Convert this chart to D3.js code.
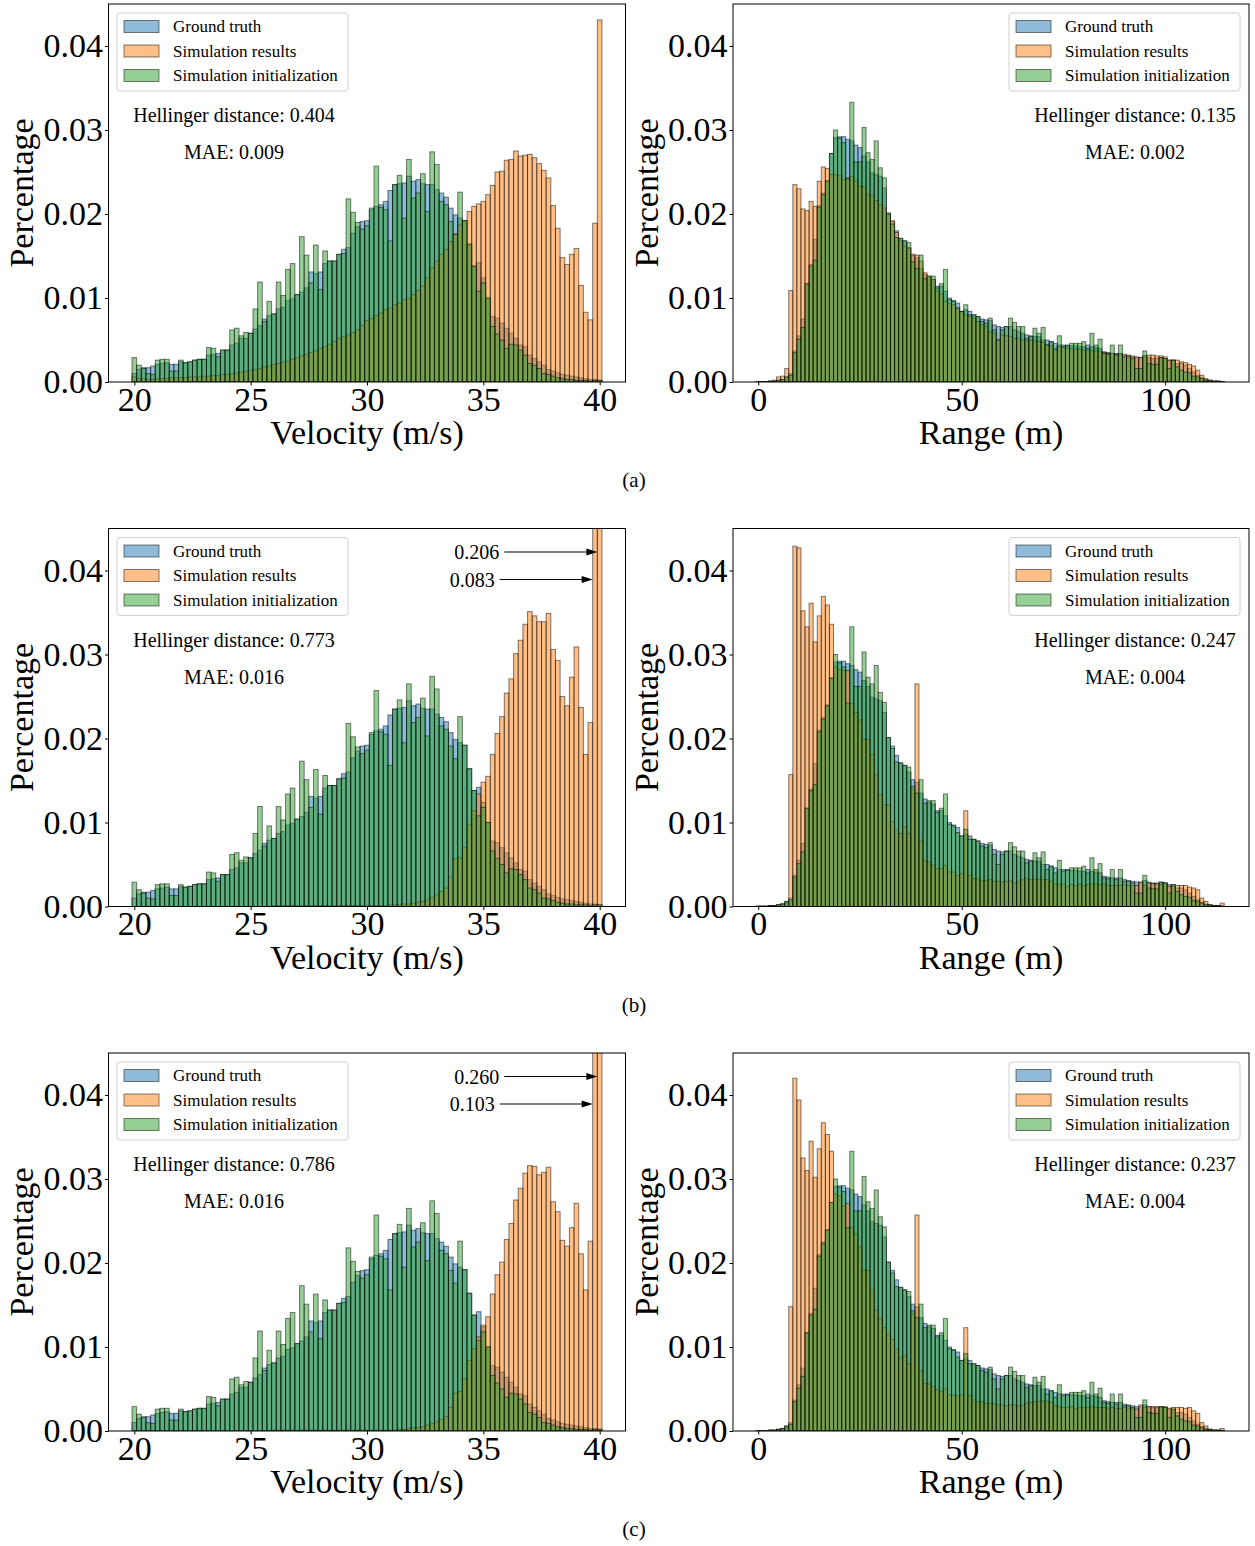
<!DOCTYPE html>
<html lang="en">
<head>
<meta charset="utf-8">
<title>Velocity and range histograms</title>
<script src="https://d3js.org/d3.v7.min.js"></script>
<style>
  body { margin: 0; background: #fff; }
  svg { display: block; font-family: "Liberation Serif", "Times New Roman", serif; }
</style>
</head>
<body>
<svg width="1255" height="1546"></svg>
<script>

// ---- data (histogram bin fractions) ----
// velocity bins: 101 bins of 0.2 m/s centred on 20.0 ... 40.0
var velGT = [
  .0010,.0015,.0017,.0017,.0019,.0021,.0022,.0023,.0021,.0021,
  .0024,.0023,.0024,.0026,.0027,.0027,.0032,.0033,.0034,.0038,
  .0038,.0044,.0046,.0052,.0052,.0058,.0063,.0067,.0075,.0079,
  .0081,.0087,.0089,.0097,.0099,.0104,.0107,.0112,.0131,.0129,
  .0131,.0141,.0144,.0144,.0152,.0158,.0160,.0177,.0185,.0191,
  .0192,.0205,.0209,.0211,.0215,.0228,.0235,.0236,.0237,.0245,
  .0239,.0241,.0236,.0235,.0235,.0229,.0225,.0220,.0207,.0199,
  .0195,.0192,.0164,.0138,.0142,.0124,.0100,.0078,.0076,.0070,
  .0064,.0058,.0052,.0044,.0042,.0032,.0028,.0024,.0020,.0015,
  .0013,.0011,.0009,.0008,.0007,.0006,.0005,.0004,.0003,.0003,
  .0002];
var velInit = [
  .0029,.0020,.0016,.0010,.0009,.0026,.0027,.0027,.0013,.0013,
  .0026,.0023,.0024,.0026,.0027,.0027,.0041,.0040,.0030,.0038,
  .0038,.0062,.0064,.0055,.0059,.0058,.0087,.0119,.0072,.0096,
  .0081,.0119,.0103,.0134,.0141,.0104,.0173,.0151,.0118,.0163,
  .0110,.0156,.0144,.0144,.0152,.0153,.0218,.0202,.0190,.0182,
  .0186,.0207,.0257,.0208,.0205,.0168,.0235,.0246,.0195,.0265,
  .0219,.0225,.0248,.0203,.0274,.0259,.0215,.0211,.0191,.0176,
  .0226,.0192,.0164,.0138,.0108,.0118,.0100,.0066,.0057,.0050,
  .0040,.0045,.0044,.0038,.0032,.0022,.0020,.0016,.0010,.0009,
  .0007,.0005,.0004,.0003,.0003,.0002,.0002,.0002,.0001,.0002,
  .0002];
var velSimA = [
  .0006,.0004,.0004,.0003,.0003,.0004,.0004,.0004,.0005,.0005,
  .0005,.0005,.0006,.0006,.0006,.0007,.0007,.0008,.0008,.0009,
  .0009,.0010,.0011,.0012,.0013,.0014,.0015,.0016,.0018,.0019,
  .0021,.0022,.0024,.0025,.0027,.0029,.0031,.0033,.0035,.0037,
  .0040,.0042,.0045,.0048,.0052,.0054,.0056,.0059,.0062,.0067,
  .0073,.0076,.0079,.0082,.0086,.0088,.0092,.0094,.0098,.0100,
  .0104,.0109,.0114,.0124,.0136,.0144,.0152,.0158,.0167,.0176,
  .0187,.0192,.0203,.0209,.0212,.0215,.0223,.0234,.0250,.0251,
  .0264,.0265,.0275,.0269,.0270,.0271,.0267,.0260,.0252,.0243,
  .0210,.0183,.0148,.0140,.0152,.0159,.0115,.0083,.0074,.0189,
  .0431];
var velSimB = [
  0,0,0,0,0,0,0,0,0,0,
  0,0,0,0,0,0,0,0,0,0,
  0,0,0,0,0,0,0,0,0,0,
  .0001,.0001,.0001,.0001,.0001,.0001,.0001,.0001,.0001,.0001,
  .0001,.0001,.0001,.0001,.0001,.0001,.0001,.0001,.0001,.0001,
  .0001,.0001,.0001,.0001,.0001,.0002,.0002,.0002,.0003,.0003,
  .0004,.0005,.0006,.0008,.0011,.0014,.0018,.0022,.0035,.0057,
  .0058,.0070,.0098,.0114,.0134,.0148,.0155,.0181,.0206,.0226,
  .0254,.0271,.0301,.0317,.0336,.0351,.0346,.0339,.0339,.0349,
  .0306,.0293,.0250,.0239,.0273,.0309,.0237,.0181,.0219,.083,
  .206];
var velSimC = [
  0,0,0,0,0,0,0,0,0,0,
  0,0,0,0,0,0,0,0,0,0,
  0,0,0,0,0,0,0,0,0,0,
  .0001,.0001,.0001,.0001,.0001,.0001,.0001,.0001,.0001,.0001,
  .0001,.0001,.0001,.0001,.0001,.0001,.0001,.0001,.0001,.0001,
  .0001,.0001,.0001,.0001,.0001,.0001,.0001,.0002,.0002,.0003,
  .0004,.0004,.0005,.0007,.0009,.0011,.0014,.0017,.0028,.0045,
  .0047,.0062,.0084,.0098,.0112,.0126,.0136,.0163,.0186,.0201,
  .0228,.0247,.0275,.0289,.0307,.0316,.0315,.0305,.0308,.0314,
  .0273,.0261,.0227,.0220,.0242,.0271,.0211,.0168,.0226,.103,
  .260];

// range bins: 115 bins of 1 m centred on 0 ... 114
var rngGT = [
  .00005,.00005,.00005,.0001,.0001,.0002,.0003,.0006,.0010,.0037,
  .0055,.0075,.0117,.0140,.0170,.0210,.0225,.0240,.0272,.0291,
  .0292,.0292,.0289,.0287,.0282,.0279,.0269,.0262,.0249,.0247,
  .0245,.0231,.0201,.0191,.0180,.0171,.0168,.0160,.0151,.0148,
  .0135,.0128,.0124,.0122,.0114,.0114,.0108,.0100,.0097,.0094,
  .0084,.0086,.0084,.0080,.0078,.0075,.0074,.0073,.0068,.0066,
  .0065,.0066,.0066,.0062,.0060,.0058,.0056,.0055,.0054,.0054,
  .0050,.0050,.0048,.0046,.0044,.0044,.0044,.0043,.0043,.0042,
  .0042,.0044,.0042,.0041,.0040,.0036,.0035,.0034,.0034,.0034,
  .0032,.0031,.0030,.0029,.0029,.0031,.0029,.0028,.0028,.0029,
  .0028,.0026,.0026,.0022,.0022,.0020,.0016,.0012,.0008,.0005,
  .0003,.0002,.0001,.0001,.00005];
var rngInit = [
  .00005,.00005,.00005,.0001,.0001,.0002,.0003,.0006,.0008,.0035,
  .0051,.0065,.0117,.0138,.0145,.0208,.0223,.0239,.0272,.0300,
  .0290,.0285,.0242,.0333,.0262,.0262,.0303,.0273,.0265,.0287,
  .0255,.0243,.0201,.0188,.0172,.0171,.0168,.0166,.0143,.0135,
  .0151,.0123,.0126,.0126,.0112,.0117,.0134,.0098,.0096,.0088,
  .0084,.0092,.0080,.0080,.0078,.0072,.0070,.0076,.0062,.0050,
  .0062,.0066,.0076,.0071,.0066,.0066,.0052,.0054,.0064,.0058,
  .0065,.0044,.0048,.0040,.0055,.0042,.0043,.0046,.0046,.0046,
  .0048,.0040,.0058,.0044,.0051,.0034,.0033,.0044,.0032,.0044,
  .0030,.0030,.0028,.0016,.0016,.0037,.0022,.0021,.0021,.0029,
  .0028,.0016,.0026,.0018,.0014,.0012,.0011,.0007,.0006,.0004,
  .0002,.0002,.0001,.0001,.00005];
var rngSimA = [
  0,0,.00005,.0001,.0002,.0006,.0007,.0016,.0109,.0235,
  .0230,.0206,.0204,.0215,.0209,.0239,.0256,.0254,.0247,.0247,
  .0246,.0241,.0243,.0245,.0239,.0233,.0233,.0224,.0222,.0216,
  .0211,.0207,.0199,.0192,.0178,.0168,.0162,.0159,.0152,.0151,
  .0144,.0130,.0126,.0122,.0108,.0105,.0096,.0093,.0092,.0088,
  .0084,.0080,.0078,.0076,.0072,.0068,.0066,.0060,.0058,.0050,
  .0056,.0055,.0054,.0052,.0052,.0050,.0049,.0050,.0049,.0048,
  .0047,.0044,.0043,.0038,.0042,.0041,.0040,.0040,.0039,.0039,
  .0038,.0038,.0037,.0037,.0036,.0035,.0034,.0034,.0033,.0033,
  .0033,.0032,.0031,.0030,.0029,.0031,.0032,.0032,.0031,.0031,
  .0030,.0026,.0026,.0026,.0024,.0023,.0021,.0019,.0014,.0008,
  .0004,.0002,.0001,.0001,.00005];
var rngSimB = [
  0,0,0,.0001,.0001,.0002,.0003,.0004,.0157,.0429,
  .0427,.0352,.0333,.0361,.0315,.0346,.0369,.0359,.0336,.0285,
  .0282,.0281,.0281,.0242,.0231,.0222,.0199,.0199,.0181,.0157,
  .0133,.0121,.0121,.0101,.0091,.0087,.0095,.0087,.0140,.0265,
  .0079,.0055,.0053,.0049,.0045,.0045,.0049,.0041,.0041,.0037,
  .0039,.0114,.0037,.0033,.0033,.0031,.0031,.0032,.0030,.0030,
  .0029,.0030,.0030,.0028,.0030,.0032,.0033,.0032,.0033,.0032,
  .0032,.0032,.0030,.0027,.0026,.0027,.0024,.0026,.0025,.0027,
  .0025,.0026,.0027,.0027,.0026,.0027,.0025,.0025,.0025,.0025,
  .0026,.0025,.0025,.0025,.0029,.0025,.0028,.0027,.0027,.0026,
  .0028,.0024,.0024,.0025,.0025,.0025,.0023,.0022,.0020,.0010,
  .0006,.0002,.0001,.0001,.0004];
var rngSimC = [
  0,0,0,.0001,.0001,.0002,.0003,.0004,.0148,.0420,
  .0394,.0325,.0310,.0345,.0302,.0336,.0367,.0353,.0333,.0282,
  .0280,.0268,.0271,.0242,.0235,.0219,.0192,.0191,.0168,.0144,
  .0134,.0123,.0115,.0109,.0097,.0087,.0090,.0080,.0140,.0257,
  .0072,.0057,.0056,.0053,.0049,.0047,.0050,.0043,.0043,.0042,
  .0043,.0123,.0042,.0037,.0035,.0035,.0033,.0033,.0032,.0031,
  .0031,.0030,.0031,.0031,.0030,.0031,.0033,.0034,.0035,.0035,
  .0036,.0035,.0034,.0030,.0029,.0028,.0028,.0029,.0027,.0028,
  .0028,.0028,.0029,.0028,.0028,.0028,.0027,.0028,.0027,.0027,
  .0028,.0027,.0026,.0026,.0031,.0028,.0029,.0029,.0029,.0028,
  .0029,.0027,.0028,.0028,.0028,.0027,.0028,.0024,.0021,.0010,
  .0006,.0002,.0001,.0001,.0003];

var seriesNames = ["Ground truth", "Simulation results", "Simulation initialization"];
var rowTags = ["(a)", "(b)", "(c)"];
var hellingerVel = ["0.404", "0.773", "0.786"];
var maeVel = ["0.009", "0.016", "0.016"];
var hellingerRng = ["0.135", "0.247", "0.237"];
var maeRng = ["0.002", "0.004", "0.004"];
var yTicks = [0, 0.01, 0.02, 0.03, 0.04];
var velTicks = [20, 25, 30, 35, 40];
var rngTicks = [0, 50, 100];

// ---- layout ----
var svg = d3.select("svg");
var colors = ["#1f77b4", "#ff7f0e", "#2ca02c"];
var plotH = 378;
var rowTop = [4, 528.5, 1053];
var fontFam = "'Liberation Serif', 'Times New Roman', serif";

var velCenters = d3.range(velGT.length).map(function(i) { return 20 + 0.2 * i; });
var rngCenters = d3.range(rngGT.length);

var velSims = [velSimA, velSimB, velSimC];
var rngSims = [rngSimA, rngSimB, rngSimC];

function drawPanel(cfg) {
  var g = svg.append("g");
  var x = d3.scaleLinear().domain(cfg.domain).range([cfg.x0, cfg.x1]);
  var y = d3.scaleLinear().domain([0, 0.045]).range([cfg.top + plotH, cfg.top]);

  svg.append("clipPath").attr("id", cfg.id)
    .append("rect")
    .attr("x", cfg.x0).attr("y", cfg.top)
    .attr("width", cfg.x1 - cfg.x0).attr("height", plotH);

  var bars = g.append("g").attr("clip-path", "url(#" + cfg.id + ")");
  [cfg.gt, cfg.sim, cfg.init].forEach(function(vals, k) {
    bars.append("g").selectAll("rect")
      .data(vals)
      .join("rect")
      .attr("x", function(d, i) { return x(cfg.centers[i] - cfg.binW / 2); })
      .attr("width", function(d, i) { return x(cfg.centers[i] + cfg.binW / 2) - x(cfg.centers[i] - cfg.binW / 2); })
      .attr("y", function(d) { return y(d); })
      .attr("height", function(d) { return y(0) - y(d); })
      .attr("fill", colors[k]).attr("fill-opacity", 0.5)
      .attr("stroke", "#000").attr("stroke-opacity", 0.5).attr("stroke-width", 1);
  });

  // axes
  var ya = g.append("g")
    .attr("transform", "translate(" + cfg.x0 + ",0)")
    .call(d3.axisLeft(y).tickValues(yTicks).tickFormat(d3.format(".2f"))
      .tickSize(3.5).tickPadding(2).tickSizeOuter(0));
  ya.select(".domain").remove();
  ya.attr("font-size", 34).attr("font-family", fontFam);

  var xa = g.append("g")
    .attr("transform", "translate(0," + (cfg.top + plotH) + ")")
    .call(d3.axisBottom(x).tickValues(cfg.ticks).tickFormat(d3.format("d"))
      .tickSize(3.5).tickPadding(1).tickSizeOuter(0));
  xa.select(".domain").remove();
  xa.attr("font-size", 34).attr("font-family", fontFam);

  // frame
  g.append("rect")
    .attr("x", cfg.x0).attr("y", cfg.top)
    .attr("width", cfg.x1 - cfg.x0).attr("height", plotH)
    .attr("fill", "none").attr("stroke", "#000").attr("stroke-width", 1);

  g.append("text")
    .attr("x", (cfg.x0 + cfg.x1) / 2).attr("y", cfg.top + plotH + 62)
    .attr("text-anchor", "middle").attr("font-size", 34)
    .text(cfg.xLabel);

  g.append("text")
    .attr("transform", "translate(" + cfg.yLabelX + "," + (cfg.top + plotH / 2) + ") rotate(-90)")
    .attr("text-anchor", "middle").attr("font-size", 34)
    .text("Percentage");

  // legend
  var lw = 231, lh = 78;
  var lx = cfg.legendLeft ? cfg.x0 + 8.5 : cfg.x1 - 9 - lw;
  var ly = cfg.top + 9;
  var leg = g.append("g").attr("transform", "translate(" + lx + "," + ly + ")");
  leg.append("rect")
    .attr("width", lw).attr("height", lh).attr("rx", 3)
    .attr("fill", "#fff").attr("fill-opacity", 0.8)
    .attr("stroke", "#d0d0d0").attr("stroke-width", 1);
  seriesNames.forEach(function(name, k) {
    var cy = 13.5 + k * 24.5;
    leg.append("rect")
      .attr("x", 7).attr("y", cy - 6).attr("width", 35).attr("height", 12)
      .attr("fill", colors[k]).attr("fill-opacity", 0.5)
      .attr("stroke", "#000").attr("stroke-opacity", 0.5);
    leg.append("text")
      .attr("x", 56).attr("y", cy).attr("dy", "0.35em")
      .attr("font-size", 17)
      .text(name);
  });

  // statistics
  var sx = cfg.legendLeft ? cfg.x0 + 125.5 : cfg.x1 - 114;
  g.append("text")
    .attr("x", sx).attr("y", cfg.top + 111).attr("dy", "0.35em")
    .attr("text-anchor", "middle").attr("font-size", 20)
    .text("Hellinger distance: " + cfg.hellinger);
  g.append("text")
    .attr("x", sx).attr("y", cfg.top + 148).attr("dy", "0.35em")
    .attr("text-anchor", "middle").attr("font-size", 20)
    .text("MAE: " + cfg.mae);

  // arrows for bars that run off the top
  if (cfg.arrows) {
    var n = cfg.sim.length;
    var marks = [
      { i: n - 1, dy: 23.5 },
      { i: n - 2, dy: 51 }
    ];
    marks.forEach(function(m) {
      var xe = x(cfg.centers[m.i] - cfg.binW / 2);
      var yy = cfg.top + m.dy;
      g.append("line")
        .attr("x1", xe - 93).attr("x2", xe - 9)
        .attr("y1", yy).attr("y2", yy)
        .attr("stroke", "#000").attr("stroke-width", 1.2);
      g.append("path")
        .attr("d", "M" + xe + "," + yy + "L" + (xe - 11) + "," + (yy - 3.5) + "L" + (xe - 11) + "," + (yy + 3.5) + "Z")
        .attr("fill", "#000");
      g.append("text")
        .attr("x", xe - 98).attr("y", yy).attr("dy", "0.35em")
        .attr("text-anchor", "end").attr("font-size", 20)
        .text(d3.format(".3f")(cfg.sim[m.i]));
    });
  }
}

rowTags.forEach(function(tag, r) {
  drawPanel({
    id: "clipV" + r, top: rowTop[r], x0: 108.5, x1: 625.5, domain: [18.89, 41.11],
    ticks: velTicks, xLabel: "Velocity (m/s)", yLabelX: 33,
    centers: velCenters, binW: 0.2,
    gt: velGT, sim: velSims[r], init: velInit,
    legendLeft: true, hellinger: hellingerVel[r], mae: maeVel[r], arrows: r > 0
  });
  drawPanel({
    id: "clipR" + r, top: rowTop[r], x0: 733, x1: 1249, domain: [-6.2, 120.6],
    ticks: rngTicks, xLabel: "Range (m)", yLabelX: 658,
    centers: rngCenters, binW: 1,
    gt: rngGT, sim: rngSims[r], init: rngInit,
    legendLeft: false, hellinger: hellingerRng[r], mae: maeRng[r], arrows: false
  });
  svg.append("text")
    .attr("x", 634).attr("y", rowTop[r] + 476).attr("dy", "0.35em")
    .attr("text-anchor", "middle").attr("font-size", 21)
    .text(tag);
});

</script>
</body>
</html>
